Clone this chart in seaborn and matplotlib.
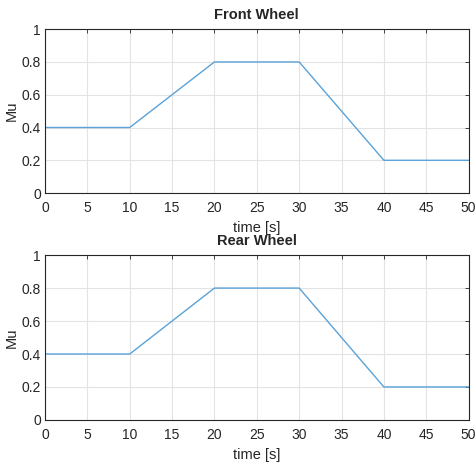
import pandas as pd
import matplotlib
matplotlib.use("Agg")
import matplotlib.pyplot as plt
import seaborn as sns

time_s = [0, 10, 20, 30, 40, 50]
mu_front = [0.4, 0.4, 0.8, 0.8, 0.2, 0.2]
mu_rear = [0.4, 0.4, 0.8, 0.8, 0.2, 0.2]
titles = ["Front Wheel", "Rear Wheel"]
x_ticks = [0, 5, 10, 15, 20, 25, 30, 35, 40, 45, 50]
y_ticks = [0, 0.2, 0.4, 0.6, 0.8, 1]
y_labels = ["0", "0.2", "0.4", "0.6", "0.8", "1"]

sns.set_style("white")
plt.rcParams['font.family'] = ['Liberation Sans', 'DejaVu Sans']

fig = plt.figure(figsize=(4.76, 4.63), dpi=100)
boxes = [[0.0945, 0.583, 0.89, 0.354], [0.0945, 0.093, 0.89, 0.356]]

for box, title, mu in zip(boxes, titles, [mu_front, mu_rear]):
    ax = fig.add_axes(box)
    df = pd.DataFrame({"time": time_s, "mu": mu})
    sns.lineplot(data=df, x="time", y="mu", ax=ax, color="#5aa2d8", linewidth=1.0)
    ax.set_xlim(0, 50)
    ax.set_ylim(0, 1)
    ax.set_xticks(x_ticks)
    ax.set_yticks(y_ticks)
    ax.set_yticklabels(y_labels)
    ax.grid(True, color="#e3e3e3", linewidth=0.8)
    ax.tick_params(direction="in", top=True, right=True, length=3, width=0.6,
                   labelsize=10, colors="#262626")
    ax.tick_params(axis="x", pad=6)
    ax.tick_params(axis="y", pad=3)
    for s in ax.spines.values():
        s.set_color("#262626")
        s.set_linewidth(0.8)
    ax.set_title(title, fontsize=10.5, fontweight="bold", pad=7)
    ax.set_xlabel("time [s]", fontsize=10.5, labelpad=4)
    ax.set_ylabel("Mu", fontsize=10.5, labelpad=2)

fig.savefig("out.png", dpi=100)
